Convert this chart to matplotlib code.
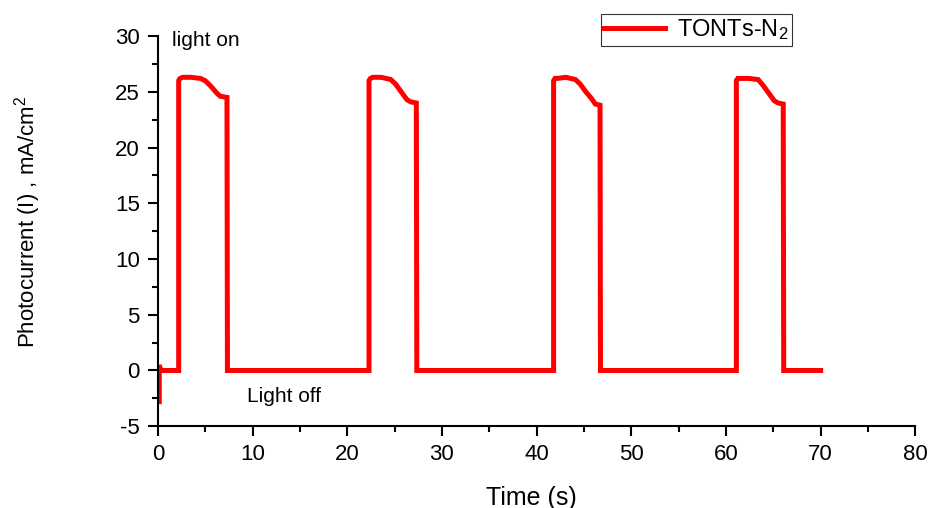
import matplotlib
matplotlib.use("Agg")
import matplotlib.pyplot as plt
from matplotlib.ticker import MultipleLocator

# Data
t_start = [0.15, 0.15, 0.25, 0.5, 2.2]
i_start = [-2.8, 0.5, 0.1, 0.0, 0.0]

pulse_on = [2.2, 22.3, 41.8, 61.1]
pulse_off = [7.35, 27.35, 46.75, 66.1]
# relative time offsets of top profile and corresponding currents
top_rel_t = [0.0, 0.15, 0.4, 1.3, 2.3, 2.8, 3.4, 4.0, 4.4]
top_i = [[26.0, 26.2, 26.3, 26.3, 26.2, 26.0, 25.5, 24.9, 24.6],
         [26.0, 26.2, 26.3, 26.3, 26.1, 25.7, 25.0, 24.3, 24.1],
         [26.0, 26.2, 26.2, 26.3, 26.1, 25.7, 25.0, 24.4, 23.9],
         [26.0, 26.2, 26.2, 26.2, 26.1, 25.6, 24.9, 24.2, 24.0]]
end_plateau = [24.5, 24.0, 23.8, 23.9]
t_end = 70.0

# build series
t = list(t_start)
cur = list(i_start)
for k in range(len(pulse_on)):
    on, off = pulse_on[k], pulse_off[k]
    t.append(on); cur.append(0.0)
    for rt, iv in zip(top_rel_t, top_i[k]):
        t.append(on + rt); cur.append(iv)
    t.append(off - 0.05); cur.append(end_plateau[k])
    t.append(off); cur.append(0.0)
    nxt = pulse_on[k + 1] if k + 1 < len(pulse_on) else t_end
    t.append(nxt); cur.append(0.0)

plt.rcParams['font.family'] = ['Liberation Sans', 'DejaVu Sans']
plt.rcParams['axes.unicode_minus'] = False
plt.rcParams['mathtext.fontset'] = 'custom'
plt.rcParams['mathtext.rm'] = 'Liberation Sans'
plt.rcParams['mathtext.it'] = 'Liberation Sans'
fig = plt.figure(figsize=(9.34, 5.08), dpi=100)
ax = fig.add_axes([0.169, 0.161, 0.811, 0.768])
ax.plot(t, cur, color='#ff0000', lw=3.6, solid_joinstyle='miter', label='TONTs-N$_2$')
ax.set_xlim(0, 80)
ax.set_ylim(-5, 30)
ax.xaxis.set_major_locator(MultipleLocator(10))
ax.xaxis.set_minor_locator(MultipleLocator(5))
ax.yaxis.set_major_locator(MultipleLocator(5))
ax.yaxis.set_minor_locator(MultipleLocator(2.5))
for s in ['top', 'right']:
    ax.spines[s].set_visible(False)
for s in ['left', 'bottom']:
    ax.spines[s].set_linewidth(1.5)
ax.tick_params(which='major', direction='out', length=7, width=1.5, labelsize=16, pad=6)
ax.tick_params(which='minor', direction='out', length=4, width=1.5)

ax.set_xlabel('Time (s)', fontsize=18)
ax.xaxis.set_label_coords(0.493, -0.152)
ax.set_ylabel('Photocurrent (I) , mA/cm$^2$', fontsize=16)
ax.yaxis.set_label_coords(-0.152, 0.523)

ax.text(1.5, 29.6, 'light on', fontsize=15, va='center', ha='left')
ax.text(9.4, -2.3, 'Light off', fontsize=15, va='center', ha='left')

leg = fig.legend(loc='upper left', bbox_to_anchor=(0.643, 0.973), fontsize=17,
                 frameon=True, fancybox=False, edgecolor='black', handlelength=2.6,
                 borderpad=0.15, borderaxespad=0, handletextpad=0.5)
leg.get_frame().set_linewidth(0.8)

fig.savefig('out.png', dpi=100)
